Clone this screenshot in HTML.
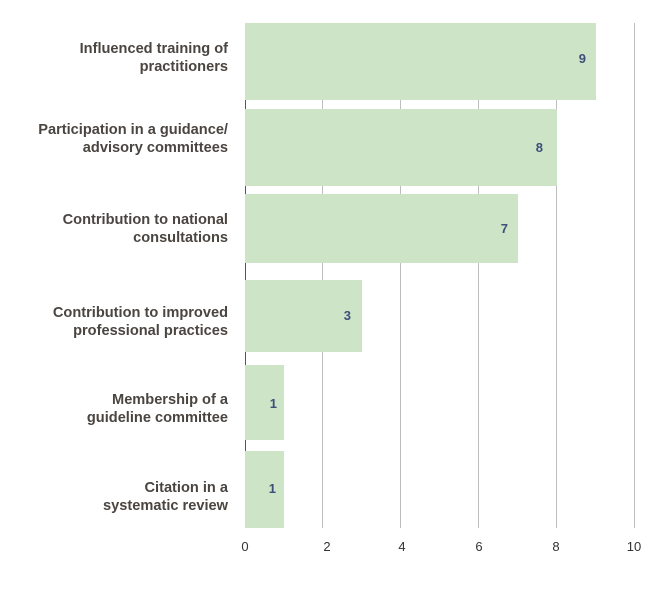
<!DOCTYPE html>
<html><head><meta charset="utf-8"><style>
html,body{margin:0;padding:0;background:#fff;}
svg{display:block;}
.l{font-family:"Liberation Sans",sans-serif;font-weight:bold;font-size:14.6px;fill:#4a4540;text-anchor:end;}
.v{font-family:"Liberation Sans",sans-serif;font-weight:bold;font-size:13px;fill:#3b4f7a;text-anchor:end;}
.t{font-family:"Liberation Sans",sans-serif;font-size:13px;fill:#333;text-anchor:middle;}
</style></head><body>
<svg width="664" height="593" viewBox="0 0 664 593">
<g stroke="#bdbdbd" stroke-width="1">
<line x1="322.5" y1="23" x2="322.5" y2="528"/>
<line x1="400.5" y1="23" x2="400.5" y2="528"/>
<line x1="478.5" y1="23" x2="478.5" y2="528"/>
<line x1="556.5" y1="23" x2="556.5" y2="528"/>
<line x1="634.5" y1="23" x2="634.5" y2="528"/>
</g>
<line x1="245.5" y1="23" x2="245.5" y2="528" stroke="#555" stroke-width="1"/>
<g fill="#cee4c6">
<rect x="245" y="23" width="351" height="77"/>
<rect x="245" y="109" width="312" height="77"/>
<rect x="245" y="194" width="273" height="69"/>
<rect x="245" y="280" width="117" height="72"/>
<rect x="245" y="365" width="39" height="75"/>
<rect x="245" y="451" width="39" height="77"/>
</g>
<text class="v" x="586" y="63">9</text>
<text class="v" x="543" y="152">8</text>
<text class="v" x="508" y="233">7</text>
<text class="v" x="351" y="320">3</text>
<text class="v" x="277" y="408">1</text>
<text class="v" x="276" y="493">1</text>
<text class="l" x="228" y="53">Influenced training of</text>
<text class="l" x="228" y="71">practitioners</text>
<text class="l" x="228" y="134">Participation in a guidance/</text>
<text class="l" x="228" y="152">advisory committees</text>
<text class="l" x="228" y="224">Contribution to national</text>
<text class="l" x="228" y="242">consultations</text>
<text class="l" x="228" y="317">Contribution to improved</text>
<text class="l" x="228" y="335">professional practices</text>
<text class="l" x="228" y="404">Membership of a</text>
<text class="l" x="228" y="422">guideline committee</text>
<text class="l" x="228" y="492">Citation in a</text>
<text class="l" x="228" y="510">systematic review</text>
<text class="t" x="245" y="551">0</text>
<text class="t" x="327" y="551">2</text>
<text class="t" x="402" y="551">4</text>
<text class="t" x="479" y="551">6</text>
<text class="t" x="556" y="551">8</text>
<text class="t" x="634" y="551">10</text>
</svg>
</body></html>
